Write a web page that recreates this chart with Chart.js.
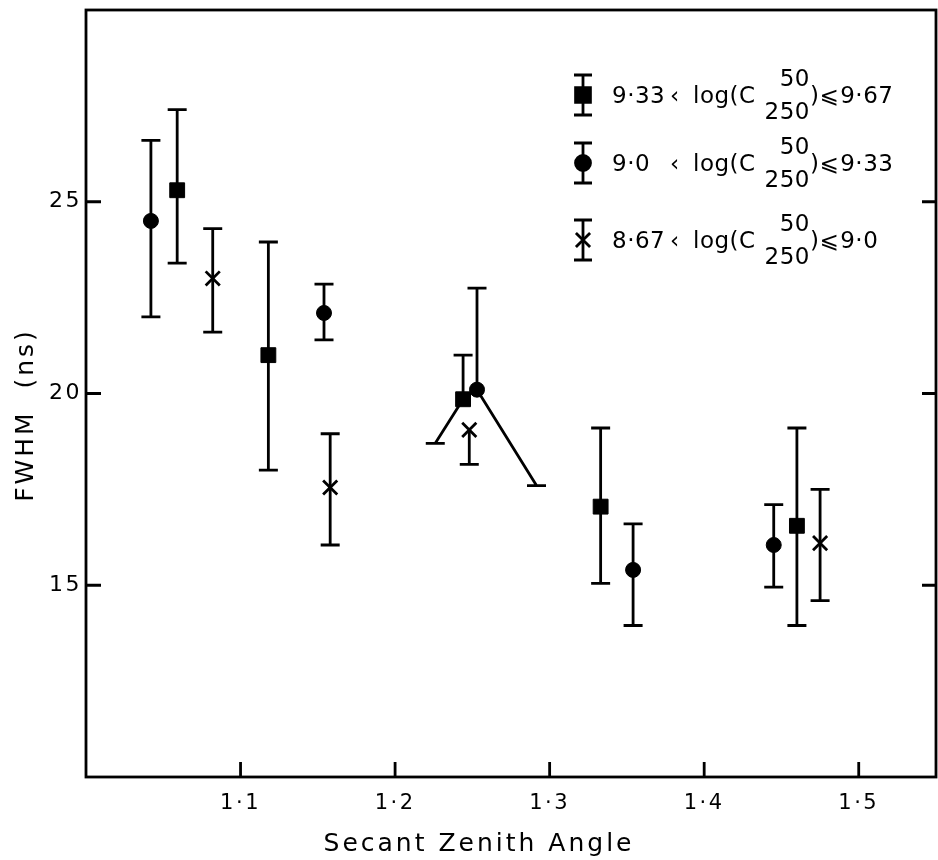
<!DOCTYPE html>
<html>
<head>
<meta charset="utf-8">
<script src="https://cdn.jsdelivr.net/npm/chart.js@4.4.0/dist/chart.umd.min.js"></script>
<style>
  html, body { margin: 0; padding: 0; background: #fff; }
  #wrap { width: 938px; height: 860px; }
</style>
</head>
<body>
<div id="wrap"><canvas id="fwhmChart" width="938" height="860"></canvas></div>
<script>
// axis ticks
const xTicks = [1.1, 1.2, 1.3, 1.4, 1.5];
const yTicks = [15, 20, 25];

// 9.33 < log(C) < 9.67  -> squares
const sqX   = [1.059, 1.118, 1.244, 1.333, 1.460];
const sqY   = [25.3, 21.0, 19.85, 17.05, 16.55];
const sqHi  = [27.4, 23.95, 21.0, 19.1, 19.1];
const sqLo  = [23.4, 18.0, 18.7, 15.05, 13.95];
const sqLoX = [null, null, 1.226, null, null]; // lower bar drawn slanted

// 9.0 < log(C) < 9.33 -> circles
const ciX   = [1.042, 1.154, 1.253, 1.354, 1.445];
const ciY   = [24.5, 22.1, 20.1, 15.4, 16.05];
const ciHi  = [26.6, 22.85, 22.75, 16.6, 17.1];
const ciLo  = [22.0, 21.4, 17.6, 13.95, 14.95];
const ciLoX = [null, null, 1.2915, null, null];

// 8.67 < log(C) < 9.0 -> crosses
const crX   = [1.082, 1.158, 1.248, 1.475];
const crY   = [23.0, 17.55, 19.05, 16.1];
const crHi  = [24.3, 18.95, null, 17.5];
const crLo  = [21.6, 16.05, 18.15, 14.6];
const crLoX = [null, null, null, null];

// legend text pieces
const legendLow  = ['9·33', '9·0', '8·67'];
const legendHigh = ['9·67', '9·33', '9·0'];
const legendStyle = ['rect', 'circle', 'crossRot'];

const xTitle = 'Secant Zenith Angle';
const yTitle = 'FWHM  (ns)';

function buildPoints(xs, ys, his, los, loxs) {
    return xs.map((v, i) => ({ x: v, y: ys[i], hi: his[i], lo: los[i], loX: loxs[i] }));
}

const FONT = 'DejaVu Sans';

// plotter-style spacing for axis text
const spacing = {
    id: 'spacing',
    beforeDraw(chart) {
        chart.ctx.letterSpacing = '2.5px';
    }
};

// no extra padding from the scales, chart area is set by layout only
function noPad(s) {
    s.paddingTop = 0; s.paddingBottom = 0; s.paddingLeft = 0; s.paddingRight = 0;
}

const errorBars = {
    id: 'errorBars',
    beforeDatasetsDraw(chart) {
        const { ctx, scales: { x, y } } = chart;
        const cap = 9.5;
        ctx.save();
        ctx.strokeStyle = '#000';
        ctx.lineWidth = 2.8;
        chart.data.datasets.forEach(ds => {
            ds.data.forEach(p => {
                const px = x.getPixelForValue(p.x);
                const py = y.getPixelForValue(p.y);
                ctx.beginPath();
                if (p.hi != null) {
                    const hy = y.getPixelForValue(p.hi);
                    ctx.moveTo(px, py); ctx.lineTo(px, hy);
                    ctx.moveTo(px - cap, hy); ctx.lineTo(px + cap, hy);
                }
                if (p.lo != null) {
                    const ly = y.getPixelForValue(p.lo);
                    const lx = p.loX != null ? x.getPixelForValue(p.loX) : px;
                    ctx.moveTo(px, py); ctx.lineTo(lx, ly);
                    ctx.moveTo(lx - cap, ly); ctx.lineTo(lx + cap, ly);
                }
                ctx.stroke();
            });
        });
        ctx.restore();
    }
};

const frame = {
    id: 'frame',
    afterDatasetsDraw(chart) {
        const { ctx, chartArea: a, scales: { x, y } } = chart;
        ctx.save();
        ctx.strokeStyle = '#000';
        ctx.lineWidth = 2.8;
        ctx.strokeRect(a.left, a.top, a.right - a.left, a.bottom - a.top);
        ctx.beginPath();
        xTicks.forEach(v => {
            const px = x.getPixelForValue(v);
            ctx.moveTo(px, a.bottom); ctx.lineTo(px, a.bottom - 15);
        });
        yTicks.forEach(v => {
            const py = y.getPixelForValue(v);
            ctx.moveTo(a.left, py); ctx.lineTo(a.left + 15, py);
            ctx.moveTo(a.right, py); ctx.lineTo(a.right - 14, py);
        });
        ctx.stroke();

        // axis titles
        ctx.fillStyle = '#000';
        ctx.font = '25px ' + FONT;
        ctx.letterSpacing = '3px';
        ctx.textAlign = 'center';
        ctx.textBaseline = 'middle';
        ctx.fillText(xTitle, 479, 844);
        ctx.translate(26, 415);
        ctx.rotate(-Math.PI / 2);
        ctx.fillText(yTitle, 0, 0);
        ctx.restore();
    }
};

const legendBox = {
    id: 'legendBox',
    afterDraw(chart) {
        const { ctx } = chart;
        const mx = 583, rows = [95, 163, 240], half = 20;
        ctx.save();
        ctx.letterSpacing = '0.5px';
        ctx.strokeStyle = '#000';
        ctx.fillStyle = '#000';
        ctx.lineWidth = 2.8;
        rows.forEach((ry, i) => {
            // marker with error bar
            ctx.beginPath();
            ctx.moveTo(mx, ry - half); ctx.lineTo(mx, ry + half);
            ctx.moveTo(mx - 9, ry - half); ctx.lineTo(mx + 9, ry - half);
            ctx.moveTo(mx - 9, ry + half); ctx.lineTo(mx + 9, ry + half);
            ctx.stroke();
            Chart.helpers.drawPoint(ctx, {
                pointStyle: legendStyle[i],
                radius: legendStyle[i] === 'rect' ? 10.5 : (legendStyle[i] === 'circle' ? 7.5 : 10),
                borderWidth: 2.8
            }, mx, ry);
            if (legendStyle[i] !== 'crossRot') ctx.fill();

            // label
            ctx.font = '23px ' + FONT;
            ctx.textBaseline = 'middle';
            ctx.textAlign = 'left';
            const ty = ry + 2;
            ctx.fillText(legendLow[i], 612, ty);
            ctx.fillText('‹', 670, ty);
            ctx.fillText('log(C', 693, ty);
            let cx = 693 + ctx.measureText('log(C').width + 9;
            const subW = ctx.measureText('250').width;
            ctx.fillText('250', cx, ty + 16);
            ctx.textAlign = 'right';
            ctx.fillText('50', cx + subW, ty - 17);
            ctx.textAlign = 'left';
            cx += subW;
            ctx.fillText(')', cx, ty);
            cx += ctx.measureText(')').width;
            ctx.fillText('⩽', cx, ty);
            cx += ctx.measureText('⩽').width + 1;
            ctx.fillText(legendHigh[i], cx, ty);
        });
        ctx.restore();
    }
};

const ctx = document.getElementById('fwhmChart').getContext('2d');
const chart = new Chart(ctx, {
    type: 'scatter',
    data: {
        datasets: [{
            label: '9·33 < log(C) < 9·67',
            data: buildPoints(sqX, sqY, sqHi, sqLo, sqLoX),
            pointStyle: 'rect',
            pointRadius: 10.5,
            backgroundColor: '#000',
            borderColor: '#000',
            borderWidth: 1
        }, {
            label: '9·0 < log(C) < 9·33',
            data: buildPoints(ciX, ciY, ciHi, ciLo, ciLoX),
            pointStyle: 'circle',
            pointRadius: 7.5,
            backgroundColor: '#000',
            borderColor: '#000',
            borderWidth: 1
        }, {
            label: '8·67 < log(C) < 9·0',
            data: buildPoints(crX, crY, crHi, crLo, crLoX),
            pointStyle: 'crossRot',
            pointRadius: 10,
            backgroundColor: '#000',
            borderColor: '#000',
            borderWidth: 2.8
        }]
    },
    options: {
        responsive: false,
        animation: false,
        layout: { autoPadding: false, padding: { left: 0, right: 2, top: 10, bottom: 0 } },
        plugins: {
            legend: { display: false },
            tooltip: { enabled: false }
        },
        scales: {
            x: {
                type: 'linear',
                min: 1.0,
                max: 1.55,
                afterBuildTicks: s => { s.ticks = xTicks.map(v => ({ value: v })); },
                afterFit: s => { s.height = 83; noPad(s); },
                grid: { display: false, drawTicks: false },
                border: { display: false },
                ticks: {
                    autoSkip: false,
                    maxRotation: 0,
                    padding: 14,
                    color: '#000',
                    font: { family: FONT, size: 21 },
                    callback: v => v.toFixed(1).replace('.', '·')
                }
            },
            y: {
                type: 'linear',
                min: 10,
                max: 30,
                afterBuildTicks: s => { s.ticks = yTicks.map(v => ({ value: v })); },
                afterFit: s => { s.width = 86; noPad(s); },
                grid: { display: false, drawTicks: false },
                border: { display: false },
                ticks: {
                    padding: 4,
                    color: '#000',
                    font: { family: FONT, size: 22 }
                }
            }
        }
    },
    plugins: [spacing, errorBars, frame, legendBox]
});
</script>
</body>
</html>
